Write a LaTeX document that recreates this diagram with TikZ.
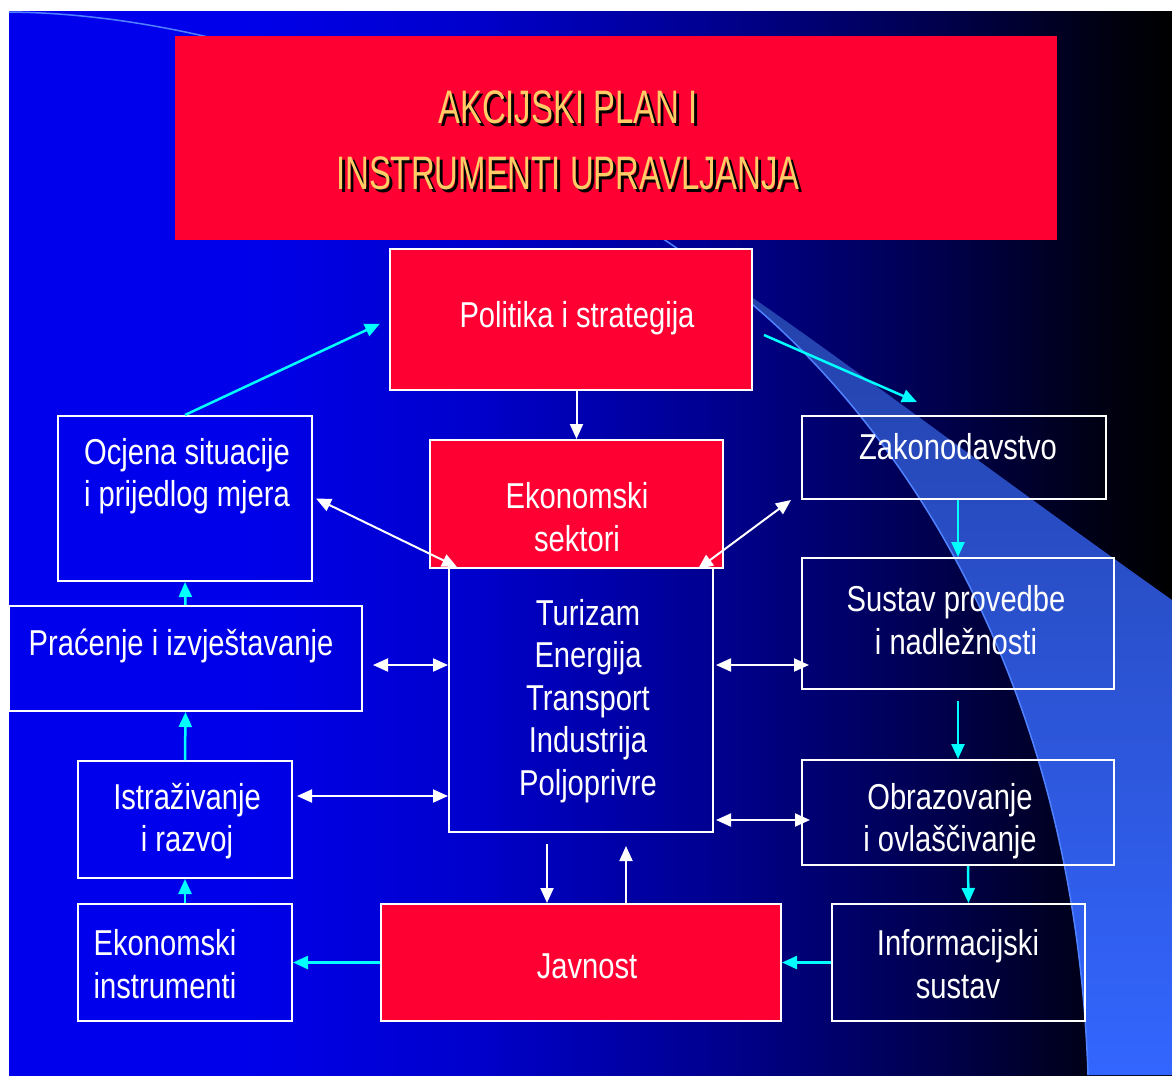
\documentclass[tikz,border=0pt]{standalone}
\usepackage{fontspec}
\setmainfont{Liberation Sans}[FakeStretch=0.81]
\newfontfamily\titlefont{Liberation Sans}[FakeStretch=0.7]
\usetikzlibrary{arrows.meta}
\definecolor{slidered}{RGB}{255,0,51}
\definecolor{titlegold}{RGB}{255,204,102}
\definecolor{swtop}{RGB}{36,66,170}
\definecolor{swbot}{RGB}{51,102,255}
\definecolor{swline}{RGB}{80,130,255}
\definecolor{aqua}{RGB}{0,255,255}
\pgfdeclarehorizontalshading{slidebg}{100bp}{rgb(0bp)=(0,0,0.93); rgb(25bp)=(0,0,0.93); rgb(35bp)=(0,0,0.92); rgb(45bp)=(0,0,0.8); rgb(55bp)=(0,0,0.57); rgb(65bp)=(0,0,0.3); rgb(72.5bp)=(0,0,0.06); rgb(75bp)=(0,0,0); rgb(100bp)=(0,0,0)}
\begin{document}
\begin{tikzpicture}[x=1pt,y=-1pt]
		\tikzstyle{box}=[draw=white,line width=2pt,inner sep=0pt]
		\tikzstyle{redbox}=[box,fill=slidered]
		\tikzstyle{txt}=[text=white,align=center,inner sep=0pt,font=\fontsize{36}{42.5}\selectfont]
		\tikzstyle{cyanarrow}=[aqua,line width=2.5pt,-{Triangle[length=15pt,width=13pt]}]
		\tikzstyle{whitearrow}=[white,line width=2pt,-{Triangle[length=15pt,width=13pt]}]
		\tikzstyle{whitedbl}=[white,line width=2pt,{Triangle[length=15pt,width=13pt]}-{Triangle[length=15pt,width=13pt]}]

		% background and swoosh
		\fill[white] (0,0) rectangle (1172,1075);
		\shade[shading=slidebg] (9,12) rectangle (1172,1075);
		\shade[top color=swtop,middle color=swbot,bottom color=swbot] (753,305) .. controls (900,430) and (1075,680) .. (1088,1075) -- (1172,1075) -- (1172,600) .. controls (1000,478) and (850,365) .. (753,298) -- cycle;
		\draw[swline,line width=1.5pt] (9,12) .. controls (300,15) and (600,180) .. (753,305) .. controls (900,430) and (1075,680) .. (1088,1075);

		% title
		\node[fill=slidered,minimum width=882pt,minimum height=204pt,inner sep=0pt] (title) at (616,138) {};
		\node[text=black,align=center,font=\titlefont\fontsize{47}{66}\selectfont] (tshadow) at (571,143) {AKCIJSKI PLAN I\\INSTRUMENTI UPRAVLJANJA};
		\node[text=titlegold,align=center,font=\titlefont\fontsize{47}{66}\selectfont] (ttitle) at (568,140) {AKCIJSKI PLAN I\\INSTRUMENTI UPRAVLJANJA};

		% boxes
		\foreach \x / \y / \w / \h / \n in {571/319.5/362/141/pol,576.5/504/293/128/eks,581/962.5/400/117/jav} { \node[redbox,minimum width=\w pt,minimum height=\h pt] (\n) at (\x,\y) {};}
		\foreach \x / \y / \w / \h / \n in {581/700/264/264/cen,185/498.5/254/165/ocj,185.5/658.5/353/105/prac,185/819.5/214/117/istr,185/962.5/214/117/ekin,954/457.5/304/83/zak,958/623.5/312/131/sus,958/812.5/312/105/obr,958.5/962.5/253/117/inf} { \node[box,minimum width=\w pt,minimum height=\h pt] (\n) at (\x,\y) {};}

		% texts
		\foreach \x / \y / \t / \n in {577/318/{Politika i strategija}/tpol,577/517/{Ekonomski\\sektori}/teks,588/701/{Turizam\\Energija\\Transport\\Industrija\\Poljoprivre}/tcen,187/476/{Ocjena situacije\\i prijedlog mjera}/tocj,181/646/{Praćenje i izvještavanje}/tprac,187/821/{Istraživanje\\i razvoj}/tistr,165/964/{Ekonomski\\instrumenti}/tekin,587/966/{Javnost}/tjav,958/447/{Zakonodavstvo}/tzak,956/620/{Sustav provedbe\\i nadležnosti}/tsus,950/821/{Obrazovanje\\i ovlaščivanje}/tobr,958/964/{Informacijski\\sustav}/tinf} { \node[txt] (\n) at (\x,\y) {\t};}

		% arrows
		\draw[cyanarrow,shorten >=10pt] (ocj.north) -- (pol.west);
		\draw[cyanarrow] ([xshift=11pt,yshift=-15.5pt]pol.east) -- ([xshift=-37pt,yshift=13pt]zak.north);
		\draw[whitearrow] ([xshift=5.5pt]pol.south) -- (eks.north);
		\draw[whitedbl] ([xshift=3pt]ocj.east) -- ([xshift=9pt]cen.north west);
		\draw[whitedbl] ([xshift=-16pt,yshift=-2pt]cen.north east) -- ([xshift=-10pt]zak.south west);
		\draw[whitedbl] ([xshift=10pt,yshift=-6.5pt]prac.east) -- ([yshift=35pt]cen.west);
		\draw[whitedbl] ([xshift=4pt,yshift=23.5pt]istr.east) -- ([yshift=-96pt]cen.west);
		\draw[whitedbl] ([xshift=2pt,yshift=35pt]cen.east) -- ([xshift=8pt,yshift=-41.5pt]sus.west);
		\draw[whitedbl] ([xshift=2pt,yshift=-120pt]cen.east) -- ([xshift=9pt,yshift=-7.5pt]obr.west);
		\draw[whitearrow] ([xshift=-34pt,yshift=-11pt]cen.south) -- ([xshift=-34pt]jav.north);
		\draw[whitearrow] ([xshift=45pt]jav.north) -- ([xshift=45pt,yshift=-13pt]cen.south);
		\foreach \a / \b in {prac/ocj,istr/prac,ekin/istr} { \draw[cyanarrow] (\a.north) -- (\b.south);}
		\foreach \a / \b in {jav/ekin,inf/jav} { \draw[cyanarrow] (\a.west) -- (\b.east);}
		\draw[cyanarrow] ([xshift=4pt]zak.south) -- (sus.north);
		\draw[cyanarrow] ([yshift=-11pt]sus.south) -- (obr.north);
		\draw[cyanarrow] ([xshift=10pt]obr.south) -- ([xshift=10pt]inf.north);

	\end{tikzpicture}
\end{document}
